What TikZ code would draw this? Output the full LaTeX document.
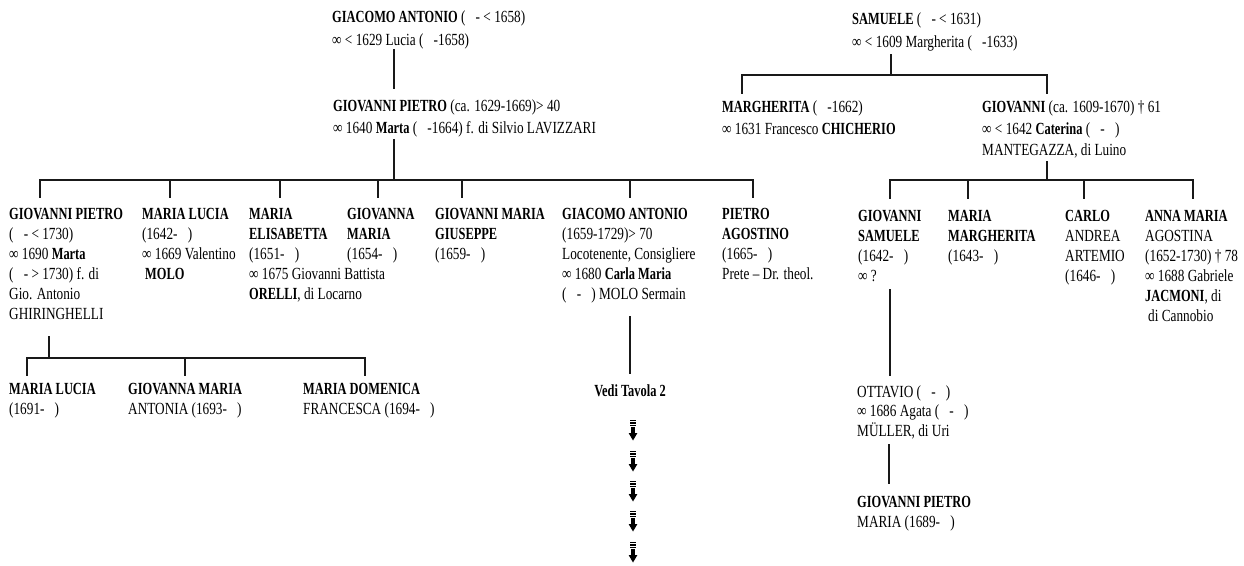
\documentclass[tikz,border=0pt]{standalone}
\usepackage{fontspec}
\setmainfont{Liberation Serif}[FakeStretch=0.78, BoldFeatures={FakeStretch=0.73}]
\newcommand\blank{\hspace{0.6em}}
\tikzset{
  person/.style={anchor=north west, inner sep=0pt, align=left,
    font=\fontsize{17}{20}\selectfont, text=black},
  pitchA/.style={font=\fontsize{17}{23}\selectfont},
  pitchB/.style={font=\fontsize{17}{21.5}\selectfont},
  link/.style={line width=1.5pt, draw=black!90, line cap=rect},
  stripedarrow/.pic={
    \fill[black] (-2.6,0) rectangle (2.6,1.2);
    \fill[black] (-2.6,2.4) rectangle (2.6,3.6);
    \fill[black] (-2.6,4.8) rectangle (2.6,6.0);
    \fill[black] (-2.2,7.2) rectangle (2.2,8.4);
    \fill[black] (-1.7,8.4) rectangle (1.7,14);
    \fill[black] (-4.4,13) -- (4.4,13) -- (0,20.5) -- cycle;
  }
}
\begin{document}
\begin{tikzpicture}[x=1pt,y=-1pt]
\useasboundingbox (0,0) rectangle (1244,565);
\fill[white] (0,0) rectangle (1244,565);

% ---------------- left family ----------------
\node[person,pitchA] (ga) at (332,11)
  {\textbf{GIACOMO ANTONIO} (\blank - < 1658)\\
   ∞ < 1629 Lucia (\blank -1658)};
\node[person,pitchB] (gp) at (333,100)
  {\textbf{GIOVANNI PIETRO} (ca. 1629-1669)> 40\\
   ∞ 1640 \textbf{Marta} (\blank -1664) f. di Silvio LAVIZZARI};

\coordinate (gaD) at (394,50);
\coordinate (gpU) at (394,88);
\draw[link] (gaD) -- (gpU);
\coordinate (gpD) at (394,140);
\coordinate (barL) at (40,180);
\coordinate (barR) at (753,180);
\draw[link] (gpD) -- (gpD |- barL);
\draw[link] (barL) -- (barR);

\node[person] (c1) at (9,208)
  {\textbf{GIOVANNI PIETRO}\\ (\blank - < 1730)\\ ∞ 1690 \textbf{Marta}\\
   (\blank - > 1730) f. di\\ Gio. Antonio\\ GHIRINGHELLI};
\node[person] (c2) at (142,208)
  {\textbf{MARIA LUCIA}\\ (1642-\blank )\\ ∞ 1669 Valentino\\ \hspace{3pt}\textbf{MOLO}};
\node[person] (c3) at (249,208)
  {\textbf{MARIA}\\ \textbf{ELISABETTA}\\ (1651-\blank )\\ ∞ 1675 Giovanni Battista\\
   \textbf{ORELLI}, di Locarno};
\node[person] (c4) at (347,208)
  {\textbf{GIOVANNA}\\ \textbf{MARIA}\\ (1654-\blank )};
\node[person] (c5) at (435,208)
  {\textbf{GIOVANNI MARIA}\\ \textbf{GIUSEPPE}\\ (1659-\blank )};
\node[person] (c6) at (562,208)
  {\textbf{GIACOMO ANTONIO}\\ (1659-1729)> 70\\ Locotenente, Consigliere\\
   ∞ 1680 \textbf{Carla Maria}\\ (\blank -\blank ) MOLO Sermain};
\node[person] (c7) at (722,208)
  {\textbf{PIETRO}\\ \textbf{AGOSTINO}\\ (1665-\blank )\\ Prete – Dr. theol.};

\foreach \cx in {40,170,280,378,462,630,753}
  \draw[link] (\cx,180) -- (\cx,197);

% grandchildren of c1
\coordinate (c1D) at (49,337);
\coordinate (gbarL) at (27,358);
\coordinate (gbarR) at (365,358);
\draw[link] (c1D) -- (c1D |- gbarL);
\draw[link] (gbarL) -- (gbarR);
\foreach \cx in {27,185,365}
  \draw[link] (\cx,358) -- (\cx,375);

\node[person] (g1) at (9,383) {\textbf{MARIA LUCIA}\\ (1691-\blank )};
\node[person] (g2) at (128,383) {\textbf{GIOVANNA MARIA}\\ ANTONIA (1693-\blank )};
\node[person] (g3) at (303,383) {\textbf{MARIA DOMENICA}\\ FRANCESCA (1694-\blank )};

% Vedi Tavola 2
\coordinate (c6D) at (630,317);
\node[inner sep=0pt, font=\fontsize{17}{20}\selectfont\bfseries, text=black]
  (vedi) at (630,391) {Vedi Tavola 2};
\draw[link] (c6D) -- (vedi.north |- 0,373);
\foreach \ay in {420,451,481,511,542}
  \pic at (633,\ay) {stripedarrow};

% ---------------- right family ----------------
\node[person,pitchA] (sa) at (852,13)
  {\textbf{SAMUELE} (\blank - < 1631)\\ ∞ < 1609 Margherita (\blank -1633)};
\coordinate (saD) at (891,55);
\coordinate (sbarL) at (742,75);
\coordinate (sbarR) at (1047,75);
\draw[link] (saD) -- (saD |- sbarL);
\draw[link] (sbarL) -- (sbarR);
\draw[link] (sbarL) -- ++(0,18);
\draw[link] (sbarR) -- ++(0,18);

\node[person,pitchB] (mg) at (722,101)
  {\textbf{MARGHERITA} (\blank -1662)\\ ∞ 1631 Francesco \textbf{CHICHERIO}};
\node[person,pitchB] (gv) at (982,101)
  {\textbf{GIOVANNI} (ca. 1609-1670) † 61\\ ∞ < 1642 \textbf{Caterina} (\blank -\blank )\\
   MANTEGAZZA, di Luino};

\coordinate (gvD) at (1047,162);
\coordinate (rbarL) at (890,180);
\coordinate (rbarR) at (1193,180);
\draw[link] (gvD) -- (gvD |- rbarL);
\draw[link] (rbarL) -- (rbarR);
\foreach \cx in {890,968,1084,1193}
  \draw[link] (\cx,180) -- (\cx,198);

\node[person] (r1) at (858,210)
  {\textbf{GIOVANNI}\\ \textbf{SAMUELE}\\ (1642-\blank )\\ ∞ ?};
\node[person] (r2) at (948,210)
  {\textbf{MARIA}\\ \textbf{MARGHERITA}\\ (1643-\blank )};
\node[person] (r3) at (1065,210)
  {\textbf{CARLO}\\ ANDREA\\ ARTEMIO\\ (1646-\blank )};
\node[person] (r4) at (1145,210)
  {\textbf{ANNA MARIA}\\ AGOSTINA\\ (1652-1730) † 78\\ ∞ 1688 Gabriele\\
   \textbf{JACMONI}, di\\ \hspace{3pt}di Cannobio};

\coordinate (r1D) at (890,290);
\node[person,font=\fontsize{17}{19.5}\selectfont] (ot) at (857,385)
  {OTTAVIO (\blank -\blank )\\ ∞ 1686 Agata (\blank -\blank )\\ MÜLLER, di Uri};
\draw[link] (r1D) -- (r1D |- 0,375);
\coordinate (otD) at (889,445);
\coordinate (gpmU) at (889,483);
\draw[link] (otD) -- (gpmU);
\node[person] (gpm) at (857,496)
  {\textbf{GIOVANNI PIETRO}\\ MARIA (1689-\blank )};
\end{tikzpicture}
\end{document}
